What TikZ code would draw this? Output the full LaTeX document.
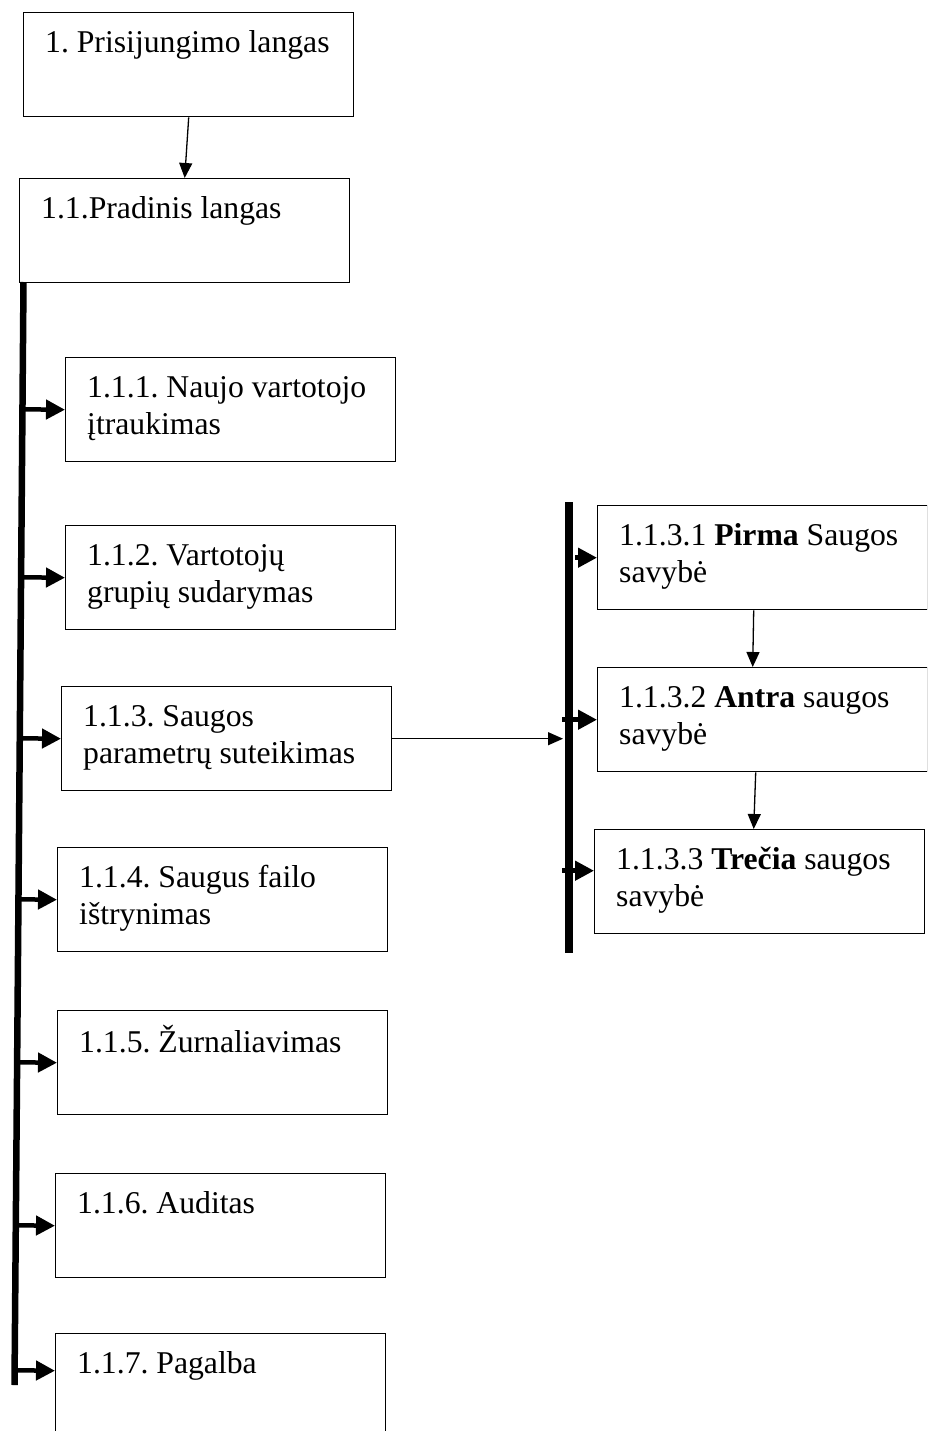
\documentclass[tikz,border=0pt]{standalone}
\usepackage{fontspec}
\setmainfont{Liberation Serif}
\usetikzlibrary{arrows.meta,calc}
% text of a window box: fixed-size frame, lines set from the top left
\newcommand\cellbody[1]{\parbox[c][104pt][t]{330pt}{\frenchspacing\vspace*{14.5pt}\raggedright\leftskip=21.5pt\strut#1}}
\begin{document}
\begin{tikzpicture}[x=1pt,y=-1pt,
  box/.style={draw,line width=1.4pt,inner sep=0pt,anchor=north west,
    font=\fontsize{31.7pt}{36.5pt}\selectfont},
  thinarrow/.style={line width=1.3pt,-{Triangle[length=15pt,width=13pt]}},
  thickarrow/.style={line width=4.5pt,-{Triangle[length=19pt,width=19pt]}},
  bar/.style={line width=6.5pt}]
\useasboundingbox (0,0) rectangle (927,1431);
\clip (0,0) rectangle (927,1431);

% main windows
\node[box] (login) at (23,12)   {\cellbody{1. Prisijungimo langas}};
\node[box] (start) at (19,178)  {\cellbody{1.1.Pradinis langas}};
\node[box] (b1)    at (65,357)  {\cellbody{1.1.1. Naujo vartotojo\\ įtraukimas}};
\node[box] (b2)    at (65,525)  {\cellbody{1.1.2. Vartotojų\\ grupių sudarymas}};
\node[box] (b3)    at (61,686)  {\cellbody{1.1.3. Saugos\\ parametrų suteikimas}};
\node[box] (b4)    at (57,847)  {\cellbody{1.1.4. Saugus failo\\ ištrynimas}};
\node[box] (b5)    at (57,1010) {\cellbody{1.1.5. Žurnaliavimas}};
\node[box] (b6)    at (55,1173) {\cellbody{1.1.6. Auditas}};
\node[box] (b7)    at (55,1333) {\cellbody{1.1.7. Pagalba}};

% security properties
\node[box] (r1) at (597,505) {\cellbody{1.1.3.1 \textbf{Pirma} Saugos\\ savybė}};
\node[box] (r2) at (597,667) {\cellbody{1.1.3.2 \textbf{Antra} saugos\\ savybė}};
\node[box] (r3) at (594,829) {\cellbody{1.1.3.3 \textbf{Trečia} saugos\\ savybė}};

% login leads to the start window
\draw[thinarrow] (login.south) -- (start.north);

% left trunk with its branches
\coordinate (ltop) at (23.5,282);
\coordinate (lbot) at (14.5,1385);
\draw[bar] (ltop) -- (lbot);
\foreach \b in {b1,b2,b3,b4,b5,b6}
  \draw[thickarrow] ($(ltop)!(\b.west)!(lbot)$) -- (\b.west);
\coordinate (b7in) at ([yshift=15pt]b7.west);
\draw[thickarrow] ($(ltop)!(b7in)!(lbot)$) -- (b7in);

% right trunk with its branches
\coordinate (rtop) at (569,502);
\coordinate (rbot) at (569,953);
\draw[bar,line width=7.5pt] (rtop) -- (rbot);
\draw[thinarrow] (b3.east) -- ($(b3.east -| rtop)+(-6,0)$);
\draw[thickarrow] ($(r1.west -| rtop)+(6,0)$) -- (r1.west);
\draw[thickarrow] ($(r2.west -| rtop)+(-7,0)$) -- (r2.west);
\coordinate (r3in) at ([yshift=11pt]r3.west);
\draw[thickarrow] ($(r3in -| rtop)+(-7,0)$) -- (r3in);

% order of the properties
\draw[thinarrow] ([xshift=-9pt]r1.south) -- ([xshift=-10pt]r2.north);
\draw[thinarrow] ([xshift=-7pt]r2.south) -- ([xshift=-6pt]r3.north);
\end{tikzpicture}
\end{document}
